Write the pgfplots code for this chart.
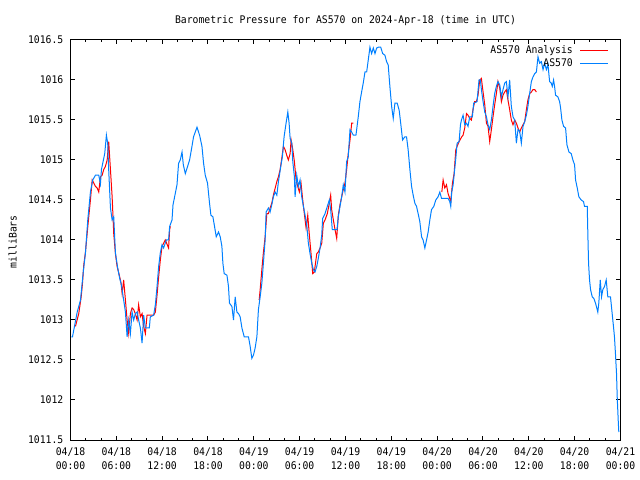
\documentclass[border=0pt]{standalone}
\usepackage{pgfplots}
\pgfplotsset{compat=1.18}
\usepackage{fontspec}
\newfontfamily\gpfont[FakeStretch=0.93]{DejaVu Sans Mono}
\newcommand\gp{\gpfont\fontsize{10.5bp}{14bp}\selectfont}
\definecolor{gpred}{RGB}{255,0,0}
\definecolor{gpblue}{RGB}{0,128,255}
\begin{document}
\begin{tikzpicture}
\path[use as bounding box] (0,0) rectangle (640bp,480bp);
\node[font=\gp, anchor=base] at (345.5bp,456bp) {Barometric Pressure for AS570 on 2024-Apr-18 (time in UTC)};
\node[font=\gp, anchor=base, rotate=90] at (16.7bp,238.3bp) {milliBars};
\begin{axis}[
  at={(70.5bp,40bp)}, anchor=south west,
  width=550bp, height=400bp, scale only axis,
  xmin=0, xmax=72, ymin=1011.5, ymax=1016.5,
  axis line style={line width=1bp, black},
  tick style={line width=1bp, black},
  tick align=inside, tick pos=both,
  major tick length=4bp, minor tick length=2bp,
  xtick={0,6,...,72}, minor x tick num=2,
  xticklabels={04/18\\00:00,04/18\\06:00,04/18\\12:00,04/18\\18:00,04/19\\00:00,04/19\\06:00,04/19\\12:00,04/19\\18:00,04/20\\00:00,04/20\\06:00,04/20\\12:00,04/20\\18:00,04/21\\00:00},
  ytick={1011.5,1012,1012.5,1013,1013.5,1014,1014.5,1015,1015.5,1016,1016.5},
  yticklabels={1011.5,1012,1012.5,1013,1013.5,1014,1014.5,1015,1015.5,1016,1016.5},
  xticklabel style={font=\gp, align=center, inner sep=0pt, anchor=north, yshift=-8bp},
  yticklabel style={font=\gp, inner sep=0pt, anchor=east, xshift=-7bp},
  unbounded coords=jump,
  legend plot pos=right,
  legend cell align=right,
  legend image code/.code={\draw[#1] (0bp,0bp) -- (28bp,0bp);},
  legend style={draw=none, fill=none, font=\gp, at={(1,1)}, anchor=north east,
    xshift=-11.5bp, yshift=-5.3bp, inner sep=0pt, column sep=7bp, row sep=3bp,
    nodes={inner sep=0pt, text height=8bp, text depth=2bp}},
]
\addplot[gpred, line width=1bp] coordinates {
(0.65,1012.92) (1.08,1013.08) (1.40,1013.29) (1.57,1013.46) (1.74,1013.69) (1.96,1013.85) (2.18,1014.08) (2.39,1014.29) (2.61,1014.50) (2.84,1014.75) (3.05,1014.71) (3.27,1014.67) (3.49,1014.65) (3.70,1014.60) (3.92,1014.79) (4.14,1014.81) (4.35,1014.88) (4.57,1014.92) (4.80,1015.00) (5.00,1015.23) (5.23,1014.88) (5.45,1014.54) (5.66,1014.08) (5.88,1013.83) (6.10,1013.67) (6.44,1013.54) (6.62,1013.46) (6.76,1013.33) (6.96,1013.50) (7.19,1013.25) (7.41,1013.00) (7.62,1012.83) (7.84,1013.08) (8.06,1013.15) (8.27,1013.13) (8.49,1013.08) (8.72,1013.00) (8.92,1013.19) (9.15,1013.04) (9.37,1013.08) (9.58,1012.92) (9.80,1012.83) (10.02,1013.06) (10.88,1013.06) (11.11,1013.10) (11.33,1013.31) (11.54,1013.54) (11.76,1013.75) (11.98,1013.92) (12.41,1014.00) (12.84,1013.90) (12.98,1014.13) (13.07,1014.17)
(18,nan)
(24.70,1013.25) (24.83,1013.38) (25.05,1013.63) (25.26,1013.85) (25.48,1014.04) (25.70,1014.33) (25.91,1014.33) (26.13,1014.40) (26.35,1014.46) (26.56,1014.56) (27.01,1014.73) (27.22,1014.79) (27.44,1014.88) (27.66,1015.02) (27.87,1015.17) (28.09,1015.13) (28.31,1015.06) (28.52,1015.00) (28.75,1015.08) (28.88,1015.25) (29.10,1015.13) (29.31,1014.98) (29.53,1014.75) (29.75,1014.67) (29.96,1014.60) (30.18,1014.71) (30.40,1014.50) (30.61,1014.33) (30.84,1014.15) (31.06,1014.31) (31.27,1014.06) (31.49,1013.83) (31.71,1013.58) (31.92,1013.60) (32.24,1013.83) (32.44,1013.85) (32.67,1013.90) (32.89,1013.96) (33.10,1014.21) (33.32,1014.25) (33.62,1014.33) (33.88,1014.46) (34.06,1014.56) (34.19,1014.38) (34.41,1014.25) (34.63,1014.13) (34.85,1014.02) (35.06,1014.31) (35.28,1014.44) (35.50,1014.54) (35.71,1014.63) (35.93,1014.71) (36.15,1014.88) (36.36,1015.08) (36.59,1015.25) (36.81,1015.46) (37.02,1015.46)
(42,nan)
(48.61,1014.60) (48.78,1014.75) (49.00,1014.65) (49.22,1014.69) (49.43,1014.58) (49.57,1014.54) (49.78,1014.48) (50.00,1014.71) (50.22,1014.83) (50.44,1015.13) (50.61,1015.17) (50.87,1015.23) (51.22,1015.29) (51.39,1015.31) (51.61,1015.40) (51.84,1015.58) (52.04,1015.56) (52.26,1015.52) (52.48,1015.50) (52.69,1015.63) (52.91,1015.73) (53.14,1015.73) (53.35,1015.81) (53.57,1016.00) (53.79,1016.02) (54.01,1015.85) (54.23,1015.69) (54.45,1015.46) (54.66,1015.42) (54.88,1015.23) (55.10,1015.38) (55.31,1015.54) (55.53,1015.69) (55.75,1015.83) (55.96,1015.98) (56.19,1015.90) (56.41,1015.73) (56.62,1015.81) (56.84,1015.85) (57.06,1015.88) (57.27,1015.75) (57.49,1015.63) (57.71,1015.50) (57.93,1015.44) (58.15,1015.50) (58.37,1015.46) (58.58,1015.40) (58.80,1015.35) (59.02,1015.40) (59.24,1015.44) (59.46,1015.48) (59.68,1015.63) (59.88,1015.75) (60.11,1015.83) (60.33,1015.85) (60.55,1015.88) (60.77,1015.88) (60.99,1015.85)
};
\addlegendentry{AS570 Analysis}
\addplot[gpblue, line width=1bp] coordinates {
(0.13,1012.79) (0.26,1012.79) (0.52,1012.92) (0.88,1013.10) (1.31,1013.25) (1.66,1013.59) (1.96,1013.84) (2.26,1014.25) (2.61,1014.60) (2.91,1014.75) (3.27,1014.81) (3.70,1014.81) (3.92,1014.70) (4.05,1014.88) (4.48,1015.08) (4.70,1015.31) (4.87,1015.21) (5.00,1014.88) (5.23,1014.40) (5.45,1014.25) (5.66,1014.29) (5.88,1013.84) (6.18,1013.65) (6.44,1013.52) (6.66,1013.44) (6.96,1013.25) (7.19,1013.10) (7.41,1012.79) (7.62,1013.00) (7.84,1012.83) (8.06,1013.10) (8.27,1013.00) (8.49,1013.08) (8.72,1013.10) (8.92,1013.00) (9.15,1012.90) (9.37,1012.71) (9.58,1013.06) (9.80,1012.90) (10.32,1012.90) (10.45,1013.04) (10.88,1013.06) (11.11,1013.19) (11.33,1013.42) (11.54,1013.67) (11.76,1013.84) (11.98,1013.94) (12.19,1013.90) (12.54,1014.00) (12.84,1014.00) (12.98,1014.17) (13.29,1014.25) (13.42,1014.44) (13.59,1014.52) (13.94,1014.69) (14.15,1014.96) (14.37,1015.00) (14.60,1015.10) (14.77,1014.94) (15.03,1014.83) (15.33,1014.92) (15.59,1015.00) (15.90,1015.17) (16.11,1015.29) (16.56,1015.41) (16.90,1015.31) (17.21,1015.17) (17.42,1014.96) (17.64,1014.81) (17.94,1014.71) (18.20,1014.46) (18.38,1014.31) (18.64,1014.29) (18.82,1014.19) (19.08,1014.04) (19.38,1014.10) (19.60,1014.04) (19.82,1013.92) (19.95,1013.71) (20.12,1013.58) (20.48,1013.56) (20.68,1013.42) (20.81,1013.21) (21.13,1013.17) (21.34,1013.00) (21.56,1013.29) (21.78,1013.10) (21.99,1013.08) (22.21,1013.04) (22.44,1012.90) (22.74,1012.79) (23.30,1012.79) (23.52,1012.67) (23.74,1012.52) (23.95,1012.56) (24.17,1012.65) (24.40,1012.79) (24.60,1013.13) (24.83,1013.29) (25.05,1013.46) (25.26,1013.72) (25.48,1014.00) (25.61,1014.35) (25.91,1014.40) (26.13,1014.35) (26.35,1014.44) (26.56,1014.54) (26.79,1014.60) (27.01,1014.56) (27.22,1014.73) (27.53,1014.92) (27.74,1015.04) (27.96,1015.29) (28.22,1015.46) (28.45,1015.60) (28.62,1015.46) (28.75,1015.27) (28.97,1015.21) (29.10,1014.98) (29.31,1014.79) (29.40,1014.54) (29.62,1014.81) (29.83,1014.67) (30.05,1014.75) (30.27,1014.54) (30.49,1014.42) (30.71,1014.31) (30.93,1014.19) (31.14,1013.96) (31.36,1013.83) (31.58,1013.71) (31.79,1013.63) (32.01,1013.60) (32.24,1013.67) (32.44,1013.77) (32.67,1013.90) (32.89,1014.06) (33.01,1014.27) (33.32,1014.33) (33.62,1014.42) (33.88,1014.50) (34.06,1014.38) (34.27,1014.13) (34.89,1014.13) (35.06,1014.29) (35.28,1014.42) (35.50,1014.54) (35.71,1014.69) (35.93,1014.60) (36.15,1014.98) (36.36,1015.04) (36.59,1015.38) (36.81,1015.35) (37.02,1015.31) (37.37,1015.31) (37.67,1015.54) (37.89,1015.73) (38.11,1015.85) (38.32,1015.96) (38.55,1016.10) (38.77,1016.10) (38.98,1016.25) (39.20,1016.41) (39.42,1016.33) (39.64,1016.40) (39.86,1016.33) (40.08,1016.40) (40.29,1016.41) (40.61,1016.41) (40.87,1016.33) (41.16,1016.31) (41.38,1016.23) (41.59,1016.19) (41.81,1015.92) (42.04,1015.67) (42.25,1015.52) (42.47,1015.71) (42.77,1015.71) (43.03,1015.62) (43.25,1015.44) (43.47,1015.25) (43.77,1015.29) (43.99,1015.29) (44.20,1015.13) (44.43,1014.88) (44.65,1014.67) (44.86,1014.56) (45.08,1014.46) (45.30,1014.42) (45.51,1014.33) (45.73,1014.23) (45.96,1014.04) (46.16,1014.00) (46.39,1013.90) (46.61,1014.00) (46.82,1014.10) (47.04,1014.25) (47.26,1014.38) (47.56,1014.42) (47.82,1014.50) (48.12,1014.54) (48.35,1014.60) (48.57,1014.52) (49.43,1014.52) (49.65,1014.48) (49.78,1014.42) (49.91,1014.60) (50.09,1014.69) (50.31,1014.90) (50.44,1015.02) (50.61,1015.21) (50.87,1015.23) (51.05,1015.44) (51.18,1015.50) (51.39,1015.56) (51.61,1015.44) (51.84,1015.46) (52.04,1015.42) (52.26,1015.54) (52.61,1015.54) (52.78,1015.71) (53.22,1015.73) (53.48,1016.00) (53.66,1016.00) (53.79,1015.88) (54.01,1015.73) (54.23,1015.60) (54.45,1015.54) (54.66,1015.44) (54.88,1015.38) (55.10,1015.50) (55.31,1015.67) (55.53,1015.83) (55.75,1015.92) (55.96,1015.98) (56.19,1015.94) (56.41,1015.79) (56.62,1015.88) (56.84,1015.96) (57.06,1015.98) (57.27,1015.79) (57.49,1016.00) (57.71,1015.67) (57.93,1015.54) (58.15,1015.50) (58.37,1015.21) (58.58,1015.38) (58.80,1015.36) (59.02,1015.21) (59.24,1015.42) (59.46,1015.48) (59.68,1015.56) (59.88,1015.67) (60.11,1015.83) (60.33,1015.98) (60.55,1016.04) (60.77,1016.08) (60.99,1016.10) (61.20,1016.29) (61.42,1016.21) (61.64,1016.23) (61.86,1016.13) (62.07,1016.21) (62.30,1016.13) (62.51,1016.19) (62.72,1015.98) (62.94,1015.96) (63.07,1015.92) (63.24,1016.00) (63.37,1015.92) (63.50,1015.81) (63.80,1015.79) (64.03,1015.73) (64.16,1015.65) (64.33,1015.50) (64.55,1015.42) (64.81,1015.40) (64.99,1015.19) (65.25,1015.10) (65.55,1015.08) (65.77,1015.00) (65.99,1014.94) (66.12,1014.75) (66.34,1014.65) (66.55,1014.54) (66.86,1014.50) (67.16,1014.48) (67.29,1014.42) (67.65,1014.42) (67.72,1014.10) (67.82,1013.71) (67.95,1013.50) (68.08,1013.38) (68.30,1013.29) (68.51,1013.27) (68.73,1013.21) (68.90,1013.15) (69.03,1013.10) (69.16,1013.21) (69.35,1013.50) (69.52,1013.29) (69.69,1013.38) (69.91,1013.42) (70.13,1013.50) (70.34,1013.29) (70.69,1013.29) (70.91,1013.08) (71.08,1012.92) (71.21,1012.79) (71.34,1012.58) (71.48,1012.33) (71.57,1012.04) (71.70,1011.75) (71.78,1011.60)
};
\addlegendentry{AS570}
\end{axis}
\end{tikzpicture}
\end{document}
